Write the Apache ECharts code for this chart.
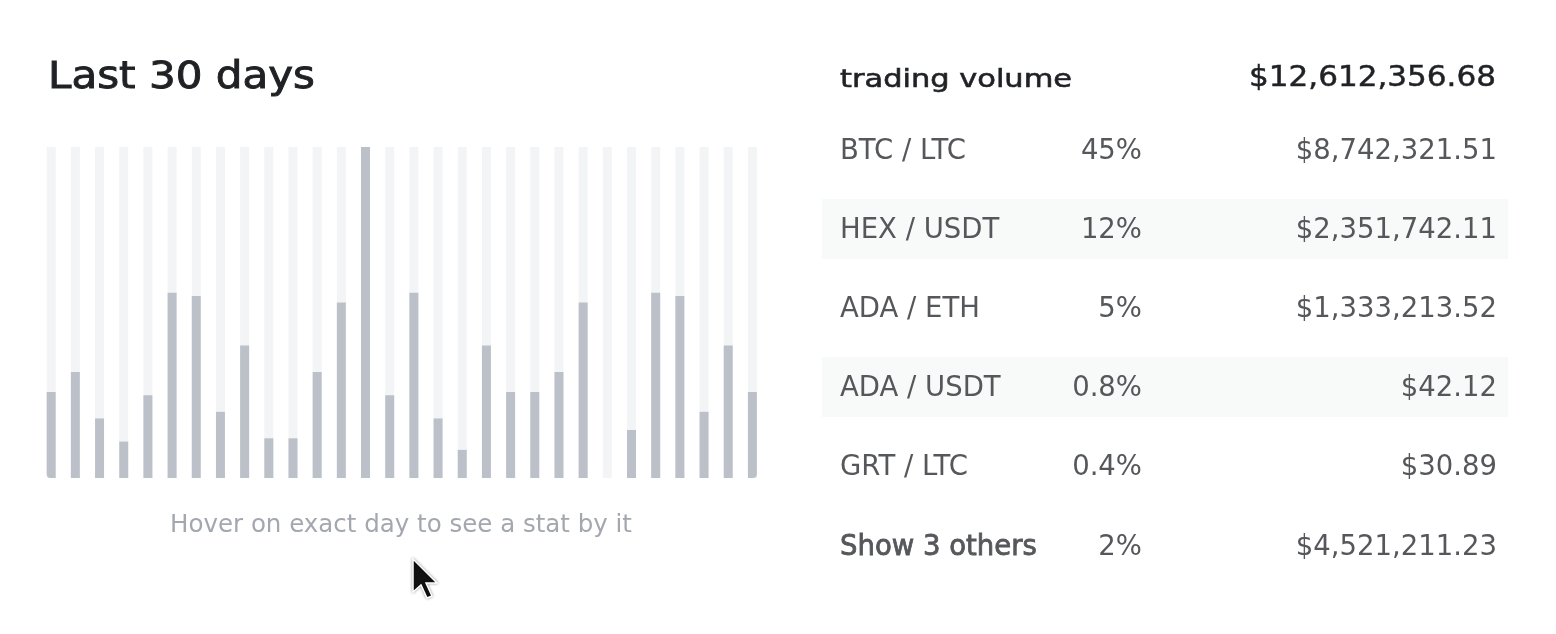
<!DOCTYPE html>
<html>
<head>
<meta charset="utf-8">
<script src="https://cdn.jsdelivr.net/npm/echarts@6/dist/echarts.min.js"></script>
<style>
html,body{margin:0;padding:0;background:#fff;}
#chart{width:1556px;height:634px;}
</style>
</head>
<body>
<div id="chart"></div>
<script>
// ---- data ----
const days = ['1','2','3','4','5','6','7','8','9','10','11','12','13','14','15','16','17','18','19','20','21','22','23','24','25','26','27','28','29','30'];
const volume = [26, 32, 18, 11, 25, 56, 55, 20, 40, 12, 12, 32, 53, 100, 25, 56, 18, 8.5, 40, 26, 26, 32, 53, 0, 14.5, 56, 55, 20, 40, 26];
const volumeMax = 100;

const titleText = 'Last 30 days';
const hintText = 'Hover on exact day to see a stat by it';
const headerLabel = 'trading volume';
const headerTotal = '$12,612,356.68';
const pairs = ['BTC / LTC', 'HEX / USDT', 'ADA / ETH', 'ADA / USDT', 'GRT / LTC', 'Show 3 others'];
const shares = ['45%', '12%', '5%', '0.8%', '0.4%', '2%'];
const amounts = ['$8,742,321.51', '$2,351,742.11', '$1,333,213.52', '$42.12', '$30.89', '$4,521,211.23'];

// ---- build ----
const chart = echarts.init(document.getElementById('chart'), null, {renderer:'canvas'});
const barData = volume.map((v, i) => {
  const item = {value: v};
  if (i === 0) item.itemStyle = {borderRadius: [0,0,0,4]};
  if (i === volume.length - 1) item.itemStyle = {borderRadius: [0,0,4,0]};
  return item;
});

const FONT = '"DejaVu Sans", Verdana, sans-serif';
const graphics = [];
graphics.push({type:'text', x:48, y:78, scaleX:1.136, style:{text:titleText, font:'400 37px '+FONT, fill:'#1f2124', stroke:'#1f2124', lineWidth:0.9, textAlign:'left', textVerticalAlign:'middle'}});
graphics.push({type:'text', x:401, y:526, style:{text:hintText, font:'400 24.5px '+FONT, fill:'#a3a7ae', textAlign:'center', textVerticalAlign:'middle'}});
graphics.push({type:'text', x:840, y:80, scaleX:1.19, style:{text:headerLabel, font:'400 25.6px '+FONT, fill:'#1f2124', stroke:'#1f2124', lineWidth:0.6, textAlign:'left', textVerticalAlign:'middle'}});
graphics.push({type:'text', x:1496, y:79, scaleX:1.09, style:{text:headerTotal, font:'400 28.5px '+FONT, fill:'#1f2124', stroke:'#1f2124', lineWidth:0.5, textAlign:'right', textVerticalAlign:'middle'}});
const rowY = [152, 231, 310, 389, 468, 548];
pairs.forEach((p, i) => {
  const y = rowY[i];
  if (i === 1 || i === 3) {
    graphics.push({type:'rect', shape:{x:822, y:y-32, width:686, height:60}, style:{fill:'#f8f9f9'}, z:-1});
  }
  const isLast = i === pairs.length - 1;
  const nameStyle = {text:p, font:'400 27.5px '+FONT, fill:'#55575b', textAlign:'left', textVerticalAlign:'middle'};
  if (isLast) { nameStyle.stroke = '#55575b'; nameStyle.lineWidth = 0.8; }
  graphics.push({type:'text', x:840, y:y, style:nameStyle});
  graphics.push({type:'text', x:1142, y:y, style:{text:shares[i], font:'400 27.5px '+FONT, fill:'#55575b', textAlign:'right', textVerticalAlign:'middle'}});
  graphics.push({type:'text', x:1497, y:y, style:{text:amounts[i], font:'400 27.5px '+FONT, fill:'#55575b', textAlign:'right', textVerticalAlign:'middle'}});
});
// mouse cursor decoration
graphics.push({type:'polygon', shape:{points:[[413,559],[413,592],[421,585],[427,598],[432,596],[426,583],[437,583]]},
  style:{fill:'#111', stroke:'#fff', lineWidth:1.5, shadowBlur:3, shadowColor:'rgba(0,0,0,0.35)'}});

chart.setOption({
  animation:false,
  backgroundColor:'#ffffff',
  grid:{left:39.1, top:147, width:725.4, height:331, containLabel:false},
  xAxis:{type:'category', data:days, show:false, boundaryGap:true},
  yAxis:{type:'value', min:0, max:volumeMax, show:false},
  series:[{
    type:'bar',
    data:barData,
    barWidth:9,
    itemStyle:{color:'#bcc1c9'},
    showBackground:true,
    backgroundStyle:{color:'#f3f4f6'},
    silent:true
  }],
  graphic:graphics
});
</script>
</body>
</html>
